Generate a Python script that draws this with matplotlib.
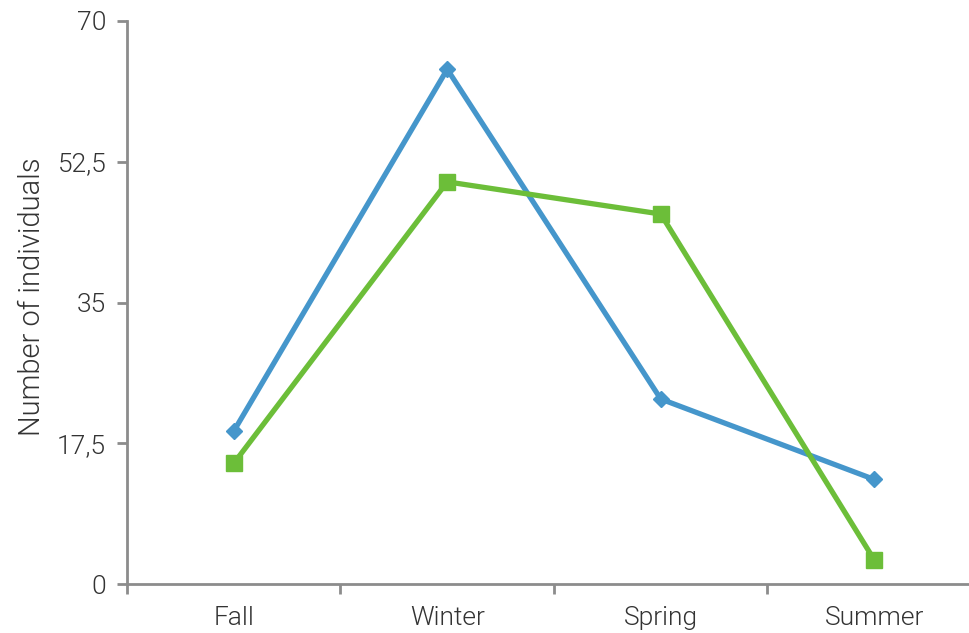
import matplotlib.pyplot as plt
from matplotlib.ticker import FixedLocator, NullFormatter

seasons = ["Fall", "Winter", "Spring", "Summer"]
series_blue = [19, 64, 23, 13]
series_green = [15, 50, 46, 3]
yticks = [0, 17.5, 35, 52.5, 70]
ytick_labels = ["0", "17,5", "35", "52,5", "70"]

plt.rcParams['font.family'] = ['Roboto', 'DejaVu Sans']
txt = '#333333'
axc = '#8c8c8c'
fsize = 19
fweight = 300

fig = plt.figure(figsize=(9.7, 6.33), dpi=100)
ax = fig.add_axes([127/970, 49/633, 854/970, 563/633])

x = range(len(seasons))
ax.plot(x, series_blue, color='#4596CB', lw=3.8, marker='D', ms=8.5,
        solid_capstyle='butt', zorder=3)
ax.plot(x, series_green, color='#6CBE39', lw=3.8, marker='s', ms=12,
        solid_capstyle='butt', zorder=3)

ax.set_xlim(-0.5, 3.5)
ax.set_ylim(0, 70)

# category labels at centres, tick marks between categories
ax.set_xticks(list(x))
ax.set_xticklabels(seasons)
ax.tick_params(axis='x', which='major', length=0, pad=16)
ax.xaxis.set_minor_locator(FixedLocator([-0.5, 0.5, 1.5, 2.5, 3.5]))
ax.xaxis.set_minor_formatter(NullFormatter())
ax.tick_params(axis='x', which='minor', length=7, width=2, color=axc)

ax.set_yticks(yticks)
ax.set_yticklabels(ytick_labels)
ax.tick_params(axis='y', length=7, width=2, color=axc, pad=8)

for lab in ax.get_xticklabels() + ax.get_yticklabels():
    lab.set_fontsize(fsize)
    lab.set_color(txt)
    lab.set_fontweight(fweight)

ax.set_ylabel("Number of individuals", fontsize=21, color=txt,
              fontweight=fweight)
ax.yaxis.set_label_coords(-0.095, 0.51)

for s in ['top', 'right']:
    ax.spines[s].set_visible(False)
for s in ['left', 'bottom']:
    ax.spines[s].set_color(axc)
    ax.spines[s].set_linewidth(2)

fig.savefig('out.png', dpi=100)
